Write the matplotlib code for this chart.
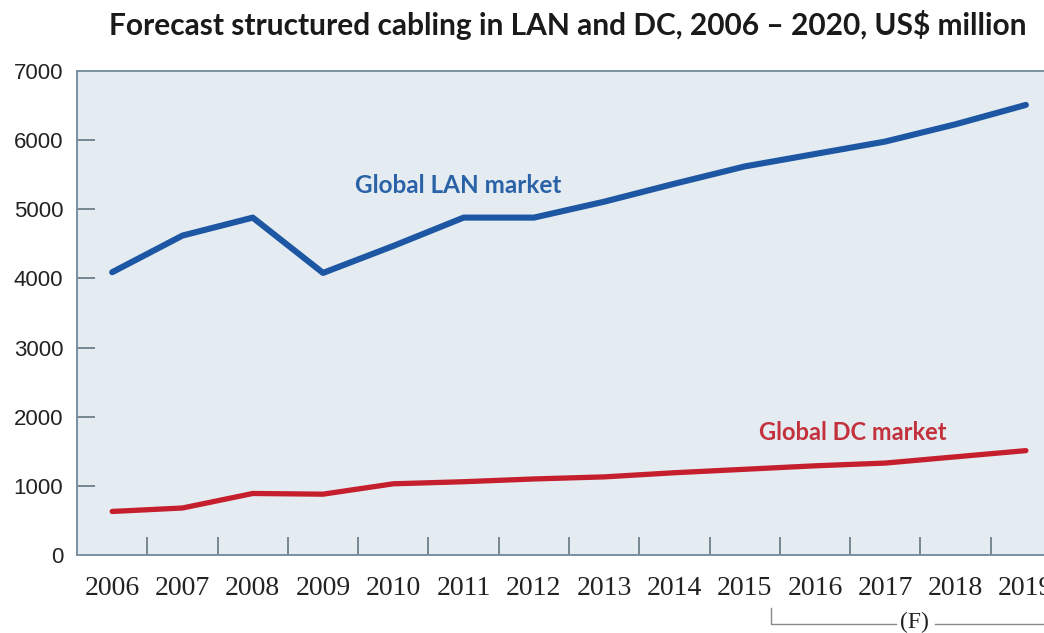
import matplotlib
matplotlib.use("Agg")
import matplotlib.pyplot as plt
from matplotlib.transforms import blended_transform_factory

# Market size, US$ million
years = ["2006", "2007", "2008", "2009", "2010", "2011", "2012",
         "2013", "2014", "2015", "2016", "2017", "2018", "2019"]
lan_market = [4090, 4620, 4880, 4080, 4470, 4880, 4880,
              5110, 5370, 5620, 5800, 5980, 6230, 6510]
dc_market = [630, 680, 890, 880, 1030, 1060, 1100,
             1130, 1190, 1240, 1290, 1330, 1420, 1510]
y_ticks = [0, 1000, 2000, 3000, 4000, 5000, 6000, 7000]

title = "Forecast structured cabling in LAN and DC, 2006 \u2013 2020, US$ million"

BLUE = "#1d57a3"
RED = "#c51f2e"
FRAME = "#7890a0"
PANEL = "#e5ecf1"

sans = ["Lato", "DejaVu Sans"]
ticksans = ["Liberation Sans", "DejaVu Sans"]
serif = ["Liberation Serif", "DejaVu Serif"]

fig = plt.figure(figsize=(10.44, 6.33), dpi=100)
fig.patch.set_facecolor("white")
ax = fig.add_axes([0.0738, 0.1232, 0.9425, 0.7646])
ax.set_facecolor(PANEL)

x = list(range(len(years)))
ax.plot(x, lan_market, color=BLUE, lw=4.4, solid_joinstyle="round",
        solid_capstyle="round", zorder=3)
ax.plot(x, dc_market, color=RED, lw=3.8, solid_joinstyle="round",
        solid_capstyle="round", zorder=3)

ax.set_xlim(-0.5, len(years) - 0.5)
ax.set_ylim(0, 7000)

# y axis: inward ticks on the interior gridlines only
ax.set_yticks(y_ticks)
ax.set_yticklabels([str(v) for v in y_ticks], family=ticksans, fontsize=16,
                   color="#222222")
ax.tick_params(axis="y", direction="in", length=13, width=1.3,
               color="#6d7f8a", pad=10)
for t in ax.yaxis.get_major_ticks():
    if t.get_loc() in (0, 7000):
        t.tick1line.set_visible(False)

# x axis: labels at category centres, inward ticks between categories
ax.set_xticks(x)
ax.set_xticklabels(years, family=serif, fontsize=20, color="#222222")
ax.tick_params(axis="x", which="major", length=0, pad=15)
ax.set_xticks([i + 0.5 for i in x[:-1]], minor=True)
ax.tick_params(axis="x", which="minor", direction="in", length=13,
               width=1.3, color="#6d7f8a")

for side in ("left", "bottom", "top", "right"):
    ax.spines[side].set_color(FRAME)
    ax.spines[side].set_linewidth(1.4)

# Series labels
ax.text(3.45, 5340, "Global LAN market", color="#2a62a8", fontsize=17.5,
        fontweight="bold", family=sans, ha="left", va="center")
ax.text(9.2, 1770, "Global DC market", color="#c3313d", fontsize=17,
        fontweight="bold", family=sans, ha="left", va="center")

# Forecast bracket below the year labels
tr = blended_transform_factory(ax.transData, fig.transFigure)
y_top = 1 - 608 / 633
y_line = 1 - 624 / 633
ax.plot([9.37, 9.37, 11.15], [y_top, y_line, y_line], color="#8a8a8a",
        lw=1.0, transform=tr, clip_on=False)
ax.plot([11.7, 14.0], [y_line, y_line], color="#8a8a8a", lw=1.0,
        transform=tr, clip_on=False)
ax.text(11.42, 1 - 622 / 633, "(F)", transform=tr, ha="center",
        va="center", family=serif, fontsize=17, color="#222222")

fig.text(0.544, 1 - 25 / 633, title, ha="center", va="center",
         fontsize=21.5, fontweight="bold", family=sans, color="#1a1a1a")

fig.savefig("out.png", dpi=100)
